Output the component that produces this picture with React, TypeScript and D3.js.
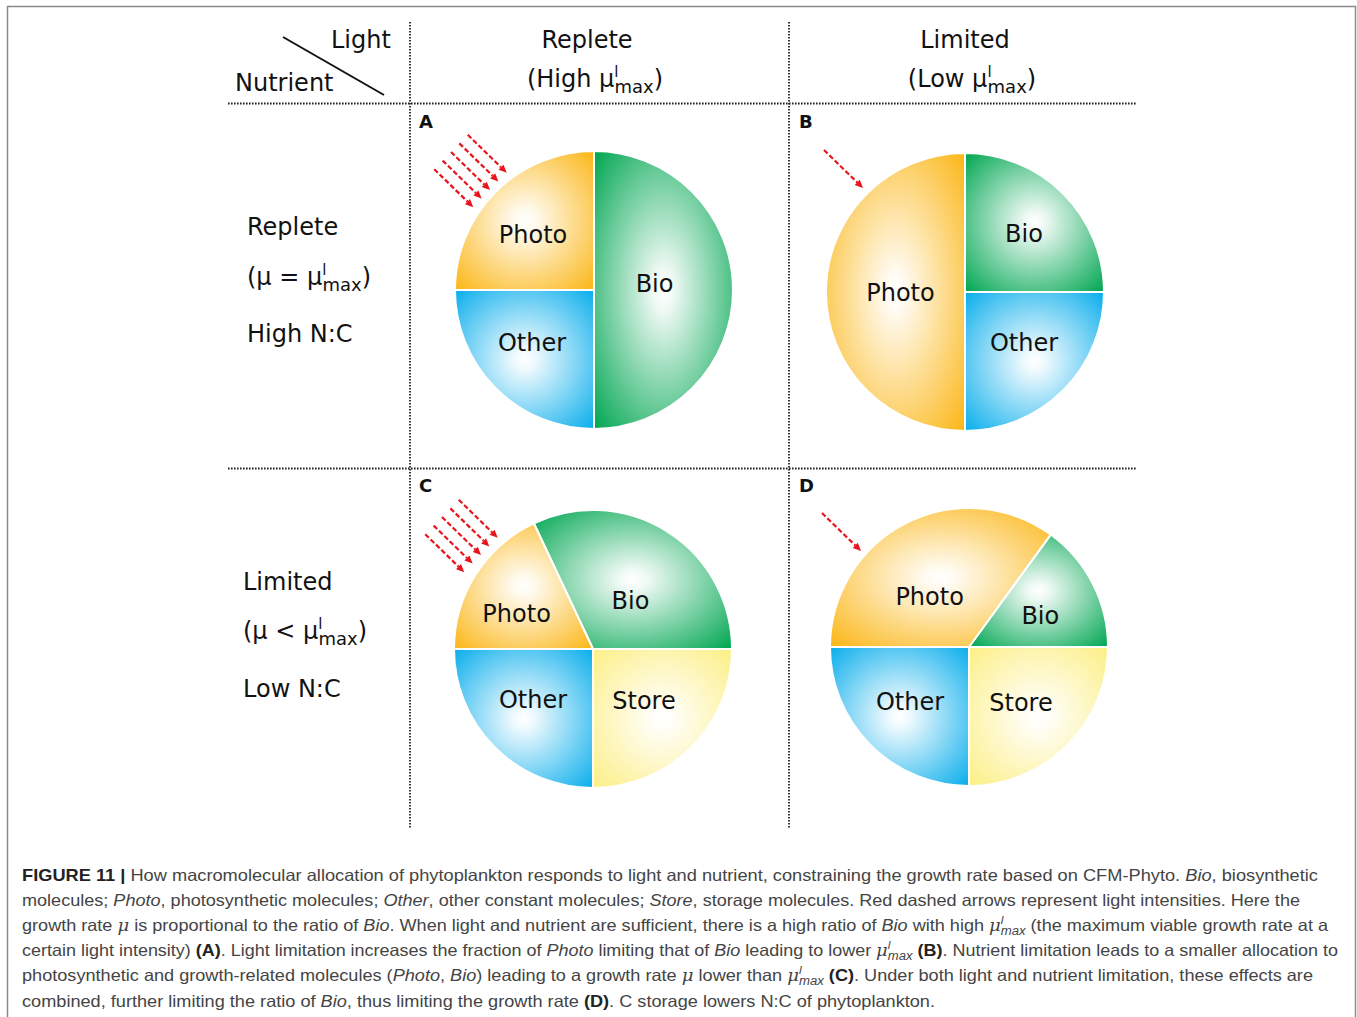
import React from 'react';
import * as d3 from 'd3';

// ---------- data ----------
const panelLetters = ['A', 'B', 'C', 'D'];
const columnTitles = ['Replete', 'Limited'];
const columnLevels = ['High', 'Low'];
const rowTitles = ['Replete', 'Limited'];
const rowRelations = ['=', '<'];
const rowNC = ['High N:C', 'Low N:C'];
const sliceNames = ['Bio', 'Store', 'Other', 'Photo'];
const bioShare = [0.5, 0.25, 0.32, 0.15];
const storeShare = [0, 0, 0.25, 0.25];
const otherShare = [0.25, 0.25, 0.25, 0.25];
const photoShare = [0.25, 0.5, 0.18, 0.35];
const lightArrows = [5, 1, 5, 1];

type Seg = { t: string; s?: 'i' | 'b' | 'm' | 'mu' };
const captionLines: Seg[][] = [
  [{ t: 'FIGURE 11 | ', s: 'b' }, { t: 'How macromolecular allocation of phytoplankton responds to light and nutrient, constraining the growth rate based on CFM-Phyto. ' }, { t: 'Bio', s: 'i' }, { t: ', biosynthetic' }],
  [{ t: 'molecules; ' }, { t: 'Photo', s: 'i' }, { t: ', photosynthetic molecules; ' }, { t: 'Other', s: 'i' }, { t: ', other constant molecules; ' }, { t: 'Store', s: 'i' }, { t: ', storage molecules. Red dashed arrows represent light intensities. Here the' }],
  [{ t: 'growth rate ' }, { t: 'μ', s: 'm' }, { t: ' is proportional to the ratio of ' }, { t: 'Bio', s: 'i' }, { t: '. When light and nutrient are sufficient, there is a high ratio of ' }, { t: 'Bio', s: 'i' }, { t: ' with high ' }, { t: '', s: 'mu' }, { t: ' (the maximum viable growth rate at a' }],
  [{ t: 'certain light intensity) ' }, { t: '(A)', s: 'b' }, { t: '. Light limitation increases the fraction of ' }, { t: 'Photo', s: 'i' }, { t: ' limiting that of ' }, { t: 'Bio', s: 'i' }, { t: ' leading to lower ' }, { t: '', s: 'mu' }, { t: ' ' }, { t: '(B)', s: 'b' }, { t: '. Nutrient limitation leads to a smaller allocation to' }],
  [{ t: 'photosynthetic and growth-related molecules (' }, { t: 'Photo', s: 'i' }, { t: ', ' }, { t: 'Bio', s: 'i' }, { t: ') leading to a growth rate ' }, { t: 'μ', s: 'm' }, { t: ' lower than ' }, { t: '', s: 'mu' }, { t: ' ' }, { t: '(C)', s: 'b' }, { t: '. Under both light and nutrient limitation, these effects are' }],
  [{ t: 'combined, further limiting the ratio of ' }, { t: 'Bio', s: 'i' }, { t: ', thus limiting the growth rate ' }, { t: '(D)', s: 'b' }, { t: '. C storage lowers N:C of phytoplankton.' }],
];
const captionLineEnds = [1318, 1300, 1328, 1338, 1313, 935];

// ---------- layout / style ----------
const W = 1357;
const H = 1017;
const R = 139;
const centers: [number, number][] = [[594, 290], [965, 292], [593, 649], [969, 647]];
const arrowAnchors: [number, number][] = [[-143, -138], [-141, -142], [-151, -132], [-147, -134]];
// small hand nudges of the slice labels (panel -> slice -> [dx, dy])
const labelNudge: Record<string, [number, number]>[] = [
  { Photo: [-2, 4], Other: [-3, -6], Bio: [-2, -6] },
  { Bio: [0, 1], Photo: [-2, 1], Other: [0, -8] },
  { Photo: [-6, 10], Bio: [4, 5], Other: [-1, -8], Store: [-8, -7] },
  { Photo: [-11, 6], Bio: [-3, 7], Other: [0, -4], Store: [-7, -3] },
];
const sliceColors: Record<string, string> = {
  Bio: '#00a651',
  Store: '#fcef86',
  Other: '#0aaeec',
  Photo: '#fbb616',
};
const FONT = "'DejaVu Sans', sans-serif";
const CAP_FONT = "'Liberation Sans', Arial, sans-serif";
const MATH_FONT = "'DejaVu Serif', 'Liberation Serif', serif";

function startAngleFor(i: number) {
  // top panels start at 12 o'clock, bottom panels so that Bio ends at 3 o'clock
  return i < 2 ? 0 : Math.PI / 2 - 2 * Math.PI * bioShare[i];
}

const arcGen = d3.arc<d3.PieArcDatum<number>>().innerRadius(0).outerRadius(R);

function Pie({ i }: { i: number }) {
  const vals = [bioShare[i], storeShare[i], otherShare[i], photoShare[i]];
  const s0 = startAngleFor(i);
  const arcs = d3.pie<number>().sort(null).value((d) => d).startAngle(s0).endAngle(s0 + 2 * Math.PI)(vals);
  const [cx, cy] = centers[i];
  return (
    <g transform={`translate(${cx},${cy})`}>
      {arcs.map((a, k) =>
        a.value > 0 ? (
          <path key={k} d={arcGen(a) || ''} fill={`url(#grad-${sliceNames[k]})`} stroke="#ffffff" strokeWidth={2} strokeLinejoin="round" />
        ) : null
      )}
      {arcs.map((a, k) => {
        if (a.value <= 0) return null;
        const mid = (a.startAngle + a.endAngle) / 2;
        const lr = a.value > 0.3 ? 0.45 * R : 0.6 * R;
        const nd = labelNudge[i][sliceNames[k]] || [0, 0];
        return (
          <text key={'t' + k} x={Math.sin(mid) * lr + nd[0]} y={-Math.cos(mid) * lr + nd[1]} textAnchor="middle" dominantBaseline="central" fontFamily={FONT} fontSize={24} fill="#111">
            {sliceNames[k]}
          </text>
        );
      })}
    </g>
  );
}

function Arrows({ i }: { i: number }) {
  const n = lightArrows[i];
  const [cx, cy] = centers[i];
  const [ax, ay] = arrowAnchors[i];
  const vx = 39, vy = 38;
  const L = Math.hypot(vx, vy);
  const ux = vx / L, uy = vy / L;
  const px = -uy, py = ux; // perpendicular
  const gap = 12;
  const head = 8, hw = 3.6;
  const items = d3.range(n).map((k) => {
    const off = (k - (n - 1) / 2) * gap;
    const sx = cx + ax - px * off;
    const sy = cy + ay - py * off;
    const tx = sx + vx, ty = sy + vy;
    const bx = tx - ux * head, by = ty - uy * head;
    return (
      <g key={k}>
        <line x1={sx} y1={sy} x2={bx} y2={by} stroke="#e8141b" strokeWidth={2.2} strokeDasharray="5 2.5" />
        <polygon points={`${tx},${ty} ${bx + px * hw},${by + py * hw} ${bx - px * hw},${by - py * hw}`} fill="#e8141b" />
      </g>
    );
  });
  return <g>{items}</g>;
}

function CaptionLine({ segs, y, end }: { segs: Seg[]; y: number; end: number }) {
  const out: React.ReactNode[] = [];
  let pendingDy = 0;
  segs.forEach((sg, k) => {
    const dy = pendingDy !== 0 ? pendingDy : undefined;
    pendingDy = 0;
    if (sg.s === 'mu') {
      out.push(<tspan key={k + 'a'} dy={dy} fontFamily={MATH_FONT} fontStyle="italic">μ</tspan>);
      out.push(<tspan key={k + 'b'} dy={-7} fontSize={11} fontStyle="italic">l</tspan>);
      out.push(<tspan key={k + 'c'} dx={-2.5} dy={11} fontSize={12} fontStyle="italic">max</tspan>);
      pendingDy = -4;
    } else if (sg.s === 'm') {
      out.push(<tspan key={k} dy={dy} fontFamily={MATH_FONT} fontStyle="italic">{sg.t}</tspan>);
    } else if (sg.s === 'i') {
      out.push(<tspan key={k} dy={dy} fontStyle="italic">{sg.t}</tspan>);
    } else if (sg.s === 'b') {
      out.push(<tspan key={k} dy={dy} fontWeight="bold" fill="#222">{sg.t}</tspan>);
    } else {
      out.push(<tspan key={k} dy={dy}>{sg.t}</tspan>);
    }
  });
  return (
    <text x={22} y={y} fontFamily={CAP_FONT} fontSize={16.5} fill="#444" textLength={end - 22} lengthAdjust="spacingAndGlyphs" style={{ whiteSpace: 'pre' }}>
      {out}
    </text>
  );
}

function MuMaxTspans({ supSize, subSize, back }: { supSize: number; subSize: number; back: number }) {
  return (
    <>
      <tspan fontSize={supSize} dy={-10}>l</tspan>
      <tspan fontSize={subSize} dx={-back} dy={16}>max</tspan>
    </>
  );
}

export default function App() {
  const colX = [595, 972];
  const colTitleX = [587, 965];
  const rowX = [247, 243];
  const rowYs = [[235, 285, 342], [590, 639, 697]];
  return (
    <svg width={W} height={H} viewBox={`0 0 ${W} ${H}`} style={{ position: 'absolute', left: 0, top: 0, background: '#fff' }}>
      <defs>
        {sliceNames.map((nm) => (
          <radialGradient key={nm} id={`grad-${nm}`} cx="50%" cy="50%" r="70%">
            <stop offset="0%" stopColor="#ffffff" />
            <stop offset="10%" stopColor={d3.interpolateRgb('#ffffff', sliceColors[nm])(0.06)} />
            <stop offset="100%" stopColor={sliceColors[nm]} />
          </radialGradient>
        ))}
      </defs>

      {/* outer frame */}
      <path d={`M7.5,${H} V6.5 H1355.5 V${H}`} fill="none" stroke="#8a8a8a" strokeWidth={1.5} />

      {/* grid */}
      {[410, 789].map((x) => (
        <line key={x} x1={x} y1={22} x2={x} y2={828} stroke="#222" strokeWidth={1.8} strokeDasharray="1.6 1.4" />
      ))}
      {[103.5, 468.5].map((y) => (
        <line key={y} x1={228} y1={y} x2={1136} y2={y} stroke="#222" strokeWidth={1.8} strokeDasharray="1.6 1.4" />
      ))}
      <line x1={283} y1={37} x2={384} y2={95} stroke="#111" strokeWidth={2} />
      <text x={331} y={48} fontFamily={FONT} fontSize={24} fill="#111">Light</text>
      <text x={235} y={91} fontFamily={FONT} fontSize={24} fill="#111">Nutrient</text>

      {/* column headers */}
      {columnTitles.map((t, c) => (
        <g key={t}>
          <text x={colTitleX[c]} y={48} textAnchor="middle" fontFamily={FONT} fontSize={24} fill="#111">{t}</text>
          <text x={colX[c]} y={87} textAnchor="middle" fontFamily={FONT} fontSize={24} fill="#111">
            <tspan>({columnLevels[c]} μ</tspan>
            <MuMaxTspans supSize={15} subSize={18} back={4} />
            <tspan dy={-6}>)</tspan>
          </text>
        </g>
      ))}

      {/* row headers */}
      {rowTitles.map((t, r) => (
        <g key={t}>
          <text x={rowX[r]} y={rowYs[r][0]} fontFamily={FONT} fontSize={24} fill="#111">{t}</text>
          <text x={rowX[r]} y={rowYs[r][1]} fontFamily={FONT} fontSize={24} fill="#111">
            <tspan>(μ {rowRelations[r]} μ</tspan>
            <MuMaxTspans supSize={15} subSize={18} back={4} />
            <tspan dy={-6}>)</tspan>
          </text>
          <text x={rowX[r]} y={rowYs[r][2]} fontFamily={FONT} fontSize={24} fill="#111">{rowNC[r]}</text>
        </g>
      ))}

      {/* panels */}
      {panelLetters.map((L, i) => (
        <g key={L}>
          <text x={i % 2 === 0 ? 419 : 799} y={i < 2 ? 128 : 492} fontFamily={FONT} fontWeight="bold" fontSize={18} fill="#111">{L}</text>
          <Pie i={i} />
          <Arrows i={i} />
        </g>
      ))}

      {/* caption */}
      {captionLines.map((segs, k) => (
        <CaptionLine key={k} segs={segs} y={881 + 25.1 * k} end={captionLineEnds[k]} />
      ))}
    </svg>
  );
}
